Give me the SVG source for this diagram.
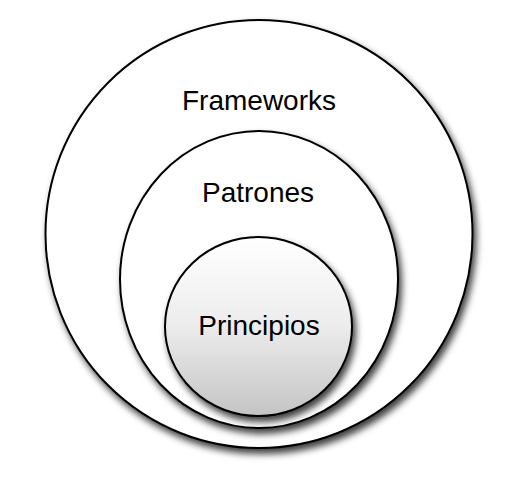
<svg xmlns="http://www.w3.org/2000/svg" width="522" height="486" viewBox="0 0 522 486">
<defs>
<filter id="sh" x="-20%" y="-20%" width="140%" height="140%">
<feDropShadow dx="3" dy="5" stdDeviation="3.5" flood-color="#000" flood-opacity="0.75"/>
</filter>
<linearGradient id="g" x1="0" y1="0" x2="0" y2="1">
<stop offset="0" stop-color="#ffffff"/>
<stop offset="0.5" stop-color="#ececec"/>
<stop offset="1" stop-color="#c4c4c4"/>
</linearGradient>
</defs>
<style>
.c{stroke:#000;stroke-width:2;}
.t{font-family:"Liberation Sans",Arial,sans-serif;fill:#000;text-anchor:middle;font-size:28px;}
</style>
<rect width="522" height="486" fill="#fff"/>
<g id="frameworks">
<ellipse class="c" cx="259" cy="234" rx="213.5" ry="214" fill="#fff" filter="url(#sh)"/>
<text class="t" x="259" y="110">Frameworks</text>
</g>
<g id="patrones">
<ellipse class="c" cx="259" cy="279.5" rx="139" ry="148.5" fill="#fff" filter="url(#sh)"/>
<text class="t" x="258" y="201.5">Patrones</text>
</g>
<g id="principios">
<ellipse class="c" cx="258.5" cy="326.5" rx="93.5" ry="89.5" fill="url(#g)" filter="url(#sh)"/>
<text class="t" x="259" y="335">Principios</text>
</g>
<g id="connectors"/>
</svg>
